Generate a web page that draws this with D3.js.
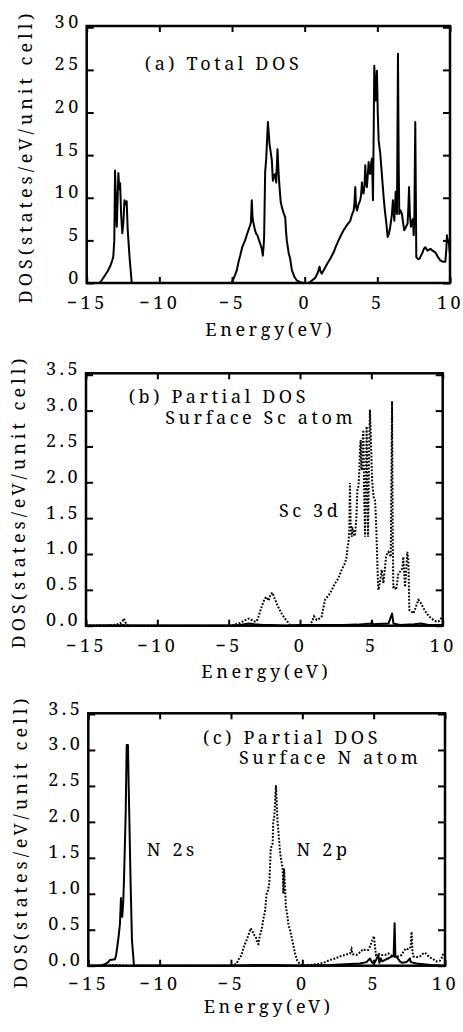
<!DOCTYPE html>
<meta charset="utf-8">
<style>
body { margin: 0; background: #fff; }
text {
  font-family: "Noto Serif", serif;
  font-size: 18px;
  letter-spacing: 3.6px;
  fill: #000;
}
.tick text { letter-spacing: 3.5px; }
.ytitle { letter-spacing: 4px; }
.frame { fill: none; stroke: #000; stroke-width: 2.5px; }
.tick line { stroke: #000; stroke-width: 2px; }
.solid { fill: none; stroke: #000; stroke-width: 2px; stroke-linejoin: round; }
.dotted { fill: none; stroke: #000; stroke-width: 2px; stroke-dasharray: 1.8,1.6; }
</style>
<body>
<script src="https://d3js.org/d3.v7.min.js"></script>
<script>
// energy (eV), DOS
var totalDos = [[-15,0],[-14.1,0],[-13.9,0.5],[-13.74,0.9],[-13.55,1.4],[-13.4,1.9],[-13.25,2.6],[-13.17,3.1],[-13.1,5],
  [-13.05,13.2],[-12.98,9],[-12.93,6.6],[-12.87,10],[-12.82,12.9],[-12.76,11],[-12.7,11.7],[-12.63,8],[-12.55,5.85],
  [-12.48,7],[-12.4,9.7],[-12.32,9.2],[-12.25,9.6],[-12.18,6.3],[-12.05,3],[-11.9,0],
  [-5.02,0],[-4.8,0.9],[-4.67,1.5],[-4.55,2.5],[-4.44,3.2],[-4.3,4.2],[-4.1,5],[-3.95,5.8],[-3.87,6.2],[-3.75,6.8],
  [-3.7,7.1],[-3.64,9.7],[-3.58,7.5],[-3.52,7],[-3.42,6.2],[-3.34,5.8],[-3.25,5.6],[-3.18,5.2],[-3.06,4.6],[-2.95,4],
  [-2.88,3.2],[-2.82,4.5],[-2.79,5.4],[-2.72,13],[-2.65,14.5],[-2.6,16.3],[-2.53,18.9],[-2.47,17.5],[-2.42,16.3],
  [-2.35,15.5],[-2.26,14.4],[-2.19,12],[-2.1,12.6],[-2.03,12.8],[-1.96,11.8],[-1.87,15.7],[-1.8,13],[-1.73,11.25],
  [-1.65,9.5],[-1.57,8.9],[-1.45,8.2],[-1.34,7.7],[-1.28,6],[-1.23,5],[-1.1,3.5],[-1.0,2.85],[-0.88,1.5],[-0.7,0.7],
  [-0.54,0.3],[-0.3,0.1],[-0.05,0],
  [0.27,0],[0.5,0.3],[0.73,0.6],[0.9,1.2],[1.02,1.9],[1.1,1.3],[1.18,1.1],[1.4,1.8],[1.6,2.4],[1.76,2.85],[1.99,3.6],
  [2.15,4.3],[2.33,5],[2.5,5.6],[2.68,6.2],[2.8,6.5],[2.91,6.8],[3.05,7.1],[3.14,7.3],[3.25,8],[3.37,8.5],[3.43,9.5],
  [3.48,11.25],[3.53,9],[3.6,8.5],[3.7,9.2],[3.82,9.7],[3.88,10.3],[3.94,11.8],[3.99,10.8],[4.05,10.5],[4.12,11.5],
  [4.17,13.8],[4.22,12],[4.28,11.25],[4.35,12.8],[4.4,14.2],[4.45,13],[4.51,12.8],[4.57,14],[4.63,14.6],[4.7,9.7],
  [4.75,18],[4.79,25.5],[4.84,23],[4.88,21.4],[4.93,23.5],[4.97,24.9],[5.03,20],[5.09,16.7],[5.2,15.2],[5.3,13],
  [5.43,10.1],[5.52,8.5],[5.62,7],[5.71,5.4],[5.8,5.8],[5.89,6.6],[6.0,8],[6.07,9.7],[6.12,8.5],[6.17,7.3],[6.22,9],
  [6.26,10.7],[6.3,9.5],[6.35,8.1],[6.42,26.9],[6.47,14],[6.51,8.1],[6.6,8.5],[6.69,8.1],[6.78,7],[6.85,6.2],[6.95,6.5],
  [7.08,7],[7.14,9],[7.18,11.25],[7.24,8],[7.31,6.6],[7.38,7.2],[7.45,7.5],[7.5,5.6],[7.55,8],[7.61,18.9],[7.66,8],
  [7.68,3.05],[7.8,2.8],[7.91,2.85],[8.0,3.2],[8.07,3.4],[8.2,4],[8.3,4.2],[8.45,3.8],[8.65,4],[8.8,3.8],[8.99,3.6],
  [9.15,3.1],[9.33,2.65],[9.5,2.5],[9.68,2.5],[9.75,4],[9.79,5.6],[9.85,4.8],[9.91,5],[9.96,4],[10,3.4]];

var scD = [[-15,0],[-13.1,0.01],[-12.8,0.02],[-12.62,0.03],[-12.45,0.06],[-12.34,0.1],[-12.2,0.03],[-12.03,0],[-5.0,0],
  [-4.67,0.01],[-4.2,0.04],[-3.9,0.07],[-3.62,0.1],[-3.39,0.08],[-3.2,0.06],[-3.04,0.06],[-2.9,0.13],[-2.8,0.2],
  [-2.57,0.33],[-2.45,0.38],[-2.34,0.4],[-2.2,0.35],[-2.06,0.44],[-1.92,0.46],[-1.82,0.4],[-1.64,0.31],[-1.45,0.23],
  [-1.29,0.17],[-1.1,0.11],[-0.93,0.07],[-0.7,0.01],[-0.4,0],[0.7,0.01],[0.85,0.06],[0.98,0.13],[1.17,0.08],
  [1.35,0.1],[1.52,0.13],[1.75,0.36],[2.1,0.45],[2.3,0.53],[2.45,0.59],[2.69,0.66],[2.92,0.78],[3.15,0.87],
  [3.27,0.96],[3.33,1.1],[3.39,1.15],[3.45,1.3],[3.5,1.99],[3.55,1.4],[3.62,1.24],[3.68,1.35],[3.74,1.33],[3.8,1.25],
  [3.86,1.27],[3.95,1.5],[4.02,1.89],[4.1,1.95],[4.16,2.17],[4.2,2.45],[4.25,2.59],[4.3,2.2],[4.35,2.17],[4.4,2.6],
  [4.44,2.73],[4.5,1.8],[4.56,1.24],[4.62,2.0],[4.67,2.78],[4.72,1.9],[4.77,1.24],[4.84,2.4],[4.9,3.01],[4.97,2.6],
  [5.05,2.03],[5.15,1.8],[5.26,1.75],[5.32,1.5],[5.37,1.2],[5.43,0.8],[5.49,0.5],[5.6,0.6],[5.72,0.78],[5.78,0.7],
  [5.84,0.59],[5.95,0.8],[6.03,0.96],[6.1,1.0],[6.19,1.03],[6.28,1.0],[6.36,0.96],[6.45,3.13],[6.5,1.2],[6.54,0.54],
  [6.63,0.55],[6.73,0.5],[6.82,0.62],[6.89,0.73],[7.0,0.75],[7.13,0.78],[7.2,0.85],[7.24,0.96],[7.3,0.75],[7.36,0.54],
  [7.45,0.8],[7.52,1.03],[7.6,0.9],[7.66,0.22],[7.8,0.2],[7.94,0.17],[8.1,0.25],[8.29,0.36],[8.4,0.34],[8.53,0.29],
  [8.7,0.23],[8.88,0.17],[9.1,0.12],[9.35,0.08],[9.55,0.06],[9.7,0.06],[9.85,0.09],[9.93,0.12],[10,0.1]];

var scOther = [[-15,0],[-12.6,0],[-12.4,0.01],[-12.2,0],[-4.8,0],[-4.2,0.01],[-3.6,0.03],[-3.2,0.02],[-2.6,0.01],
  [-2.0,0.01],[-1.0,0],[0,0.01],[1.0,0.01],[2,0.01],[3,0.01],[4,0.015],[5,0.03],[5.05,0.06],[5.1,0.02],[6.2,0.03],
  [6.45,0.17],[6.55,0.03],[7,0.01],[8,0.02],[8.5,0.03],[9,0.01],[10,0.01]];

var n2s = [[-15,0],[-14.18,0],[-14.0,0.01],[-13.83,0.02],[-13.6,0.05],[-13.48,0.08],[-13.13,0.09],[-13.05,0.15],
  [-12.97,0.26],[-12.85,0.45],[-12.78,0.59],[-12.71,0.94],[-12.66,0.75],[-12.62,0.68],[-12.55,0.9],[-12.5,1.19],
  [-12.42,1.8],[-12.38,2.12],[-12.31,3.07],[-12.22,3.07],[-12.18,2.6],[-12.13,2.12],[-12.08,1.6],[-12.03,1.1],
  [-11.94,0.36],[-11.8,0],[-5,0],[-3,0.01],[-2,0.01],[0,0],[2,0.01],[4.04,0.03],[4.5,0.05],[4.74,0.1],[4.9,0.04],
  [5.1,0.05],[5.33,0.15],[5.4,0.04],[5.5,0.1],[5.6,0.06],[5.8,0.08],[6.0,0.1],[6.2,0.12],[6.4,0.14],[6.47,0.59],
  [6.52,0.14],[6.7,0.1],[6.84,0.06],[7.0,0.04],[7.3,0.05],[7.54,0.1],[7.6,0.05],[8.0,0.03],[8.5,0.02],[9,0.01],[10,0]];

var n2p = [[-15,0],[-14.5,0],[-13,0.01],[-12.5,0],[-5.0,0],[-4.84,0.01],[-4.6,0.03],[-4.49,0.08],[-4.25,0.15],
  [-4.14,0.24],[-3.9,0.36],[-3.79,0.42],[-3.62,0.52],[-3.55,0.5],[-3.43,0.45],[-3.35,0.42],[-3.25,0.4],[-3.15,0.31],
  [-3.08,0.3],[-3.01,0.38],[-2.9,0.48],[-2.85,0.5],[-2.74,0.64],[-2.62,0.75],[-2.5,1.0],[-2.4,1.05],[-2.31,1.15],
  [-2.22,1.6],[-2.16,1.66],[-2.08,1.7],[-2.04,1.98],[-1.95,2.1],[-1.85,2.51],[-1.78,2.2],[-1.73,1.98],[-1.65,1.8],
  [-1.57,1.6],[-1.52,1.52],[-1.42,1.4],[-1.38,1.38],[-1.33,1.0],[-1.28,1.35],[-1.21,1.1],[-1.15,0.82],[-1.05,0.7],
  [-0.98,0.58],[-0.87,0.5],[-0.75,0.4],[-0.62,0.28],[-0.51,0.17],[-0.35,0.07],[-0.16,0.02],[0,0],[0.5,0.01],
  [1.0,0.02],[1.24,0.03],[1.6,0.05],[1.94,0.08],[2.3,0.1],[2.64,0.13],[3.0,0.15],[3.34,0.17],[3.45,0.23],[3.52,0.16],
  [3.8,0.15],[4.0,0.18],[4.27,0.23],[4.4,0.22],[4.62,0.22],[4.75,0.27],[4.86,0.33],[5.02,0.41],[5.1,0.25],[5.16,0.15],
  [5.3,0.17],[5.56,0.15],[5.8,0.15],[6.03,0.17],[6.25,0.14],[6.49,0.12],[6.7,0.13],[6.96,0.15],[7.1,0.2],[7.26,0.24],
  [7.4,0.23],[7.54,0.24],[7.6,0.3],[7.66,0.47],[7.72,0.2],[7.77,0.13],[8.0,0.12],[8.24,0.13],[8.4,0.16],[8.6,0.18],
  [8.8,0.14],[9.06,0.1],[9.25,0.08],[9.41,0.06],[9.65,0.07],[9.8,0.12],[9.88,0.17],[10,0.18]];

var xTicks = [-15, -10, -5, 0, 5, 10];
var yTicksTotal = [0, 5, 10, 15, 20, 25, 30];
var yTicksPartial = [0, 0.5, 1, 1.5, 2, 2.5, 3, 3.5];

var xTitle = "Energy(eV)";
var yTitle = "DOS(states/eV/unit cell)";

var width = 463,
    height = 1032;

var svg = d3.select("body").append("svg")
    .attr("width", width)
    .attr("height", height);

var panels = [
  { left: 86.7, right: 450, top: 26, bottom: 283, ymax: 30.15, yticks: yTicksTotal, fmt: d3.format("d"),
    yTitleX: 31.5, labY: 26, titleY: 53, lines: [{ data: totalDos, cls: "solid" }],
    notes: [{ t: "(a) Total DOS", x: -11, y: 25 }] },
  { left: 86, right: 442.7, top: 373.3, bottom: 625.7, ymax: 3.52, yticks: yTicksPartial, fmt: d3.format(".1f"),
    yTitleX: 25, labY: 26, titleY: 52, lines: [{ data: scOther, cls: "solid" }, { data: scD, cls: "dotted" }],
    notes: [{ t: "(b) Partial DOS", x: -12, y: 3.1 }, { t: "Surface Sc atom", x: -9.45, y: 2.81 },
            { t: "Sc 3d", x: -1.48, y: 1.51 }] },
  { left: 88.3, right: 445, top: 713.3, bottom: 965.7, ymax: 3.51, yticks: yTicksPartial, fmt: d3.format(".1f"),
    yTitleX: 26.5, labY: 24, titleY: 47, lines: [{ data: n2s, cls: "solid" }, { data: n2p, cls: "dotted" }],
    notes: [{ t: "(c) Partial DOS", x: -6.96, y: 3.09 }, { t: "Surface N atom", x: -4.44, y: 2.8 },
            { t: "N 2s", x: -10.9, y: 1.52 }, { t: "N 2p", x: -0.4, y: 1.52 }] }
];

panels.forEach(function(p) {
  var x = d3.scaleLinear().domain([-15, 10]).range([p.left, p.right]);
  var y = d3.scaleLinear().domain([0, p.ymax]).range([p.bottom, p.top]);

  var line = d3.line()
      .x(function(d) { return x(d[0]); })
      .y(function(d) { return y(d[1]); });

  var g = svg.append("g");

  p.lines.forEach(function(s) {
    g.append("path")
        .datum(s.data)
        .attr("class", s.cls)
        .attr("d", line);
  });

  // axes, ticks pointing in
  var bottom = g.append("g")
      .attr("transform", "translate(0," + p.bottom + ")")
      .call(d3.axisBottom(x).tickValues(xTicks).tickSize(-6));
  bottom.selectAll("text").attr("y", p.labY).attr("dy", 0);

  g.append("g")
      .attr("transform", "translate(0," + p.top + ")")
      .call(d3.axisTop(x).tickValues(xTicks).tickSize(-6).tickFormat(""));

  var left = g.append("g")
      .attr("transform", "translate(" + p.left + ",0)")
      .call(d3.axisLeft(y).tickValues(p.yticks).tickSize(-7).tickFormat(p.fmt));
  left.selectAll("text").attr("x", -5).attr("dy", 0);

  g.append("g")
      .attr("transform", "translate(" + p.right + ",0)")
      .call(d3.axisRight(y).tickValues(p.yticks).tickSize(-7).tickFormat(""));

  g.selectAll(".domain").remove();
  g.selectAll("g").attr("font-family", null).attr("font-size", null);

  g.append("rect")
      .attr("class", "frame")
      .attr("x", p.left)
      .attr("y", p.top)
      .attr("width", p.right - p.left)
      .attr("height", p.bottom - p.top);

  g.append("text")
      .attr("x", (p.left + p.right) / 2 + 2)
      .attr("y", p.bottom + p.titleY)
      .attr("text-anchor", "middle")
      .text(xTitle);

  g.append("text")
      .attr("class", "ytitle")
      .attr("transform", "translate(" + p.yTitleX + "," + ((p.top + p.bottom) / 2 + 2) + ") rotate(-90)")
      .attr("text-anchor", "middle")
      .text(yTitle);

  g.selectAll(".note")
      .data(p.notes)
      .enter().append("text")
      .attr("class", "note")
      .attr("x", function(d) { return x(d.x); })
      .attr("y", function(d) { return y(d.y); })
      .text(function(d) { return d.t; });
});
</script>
</body>
</html>
